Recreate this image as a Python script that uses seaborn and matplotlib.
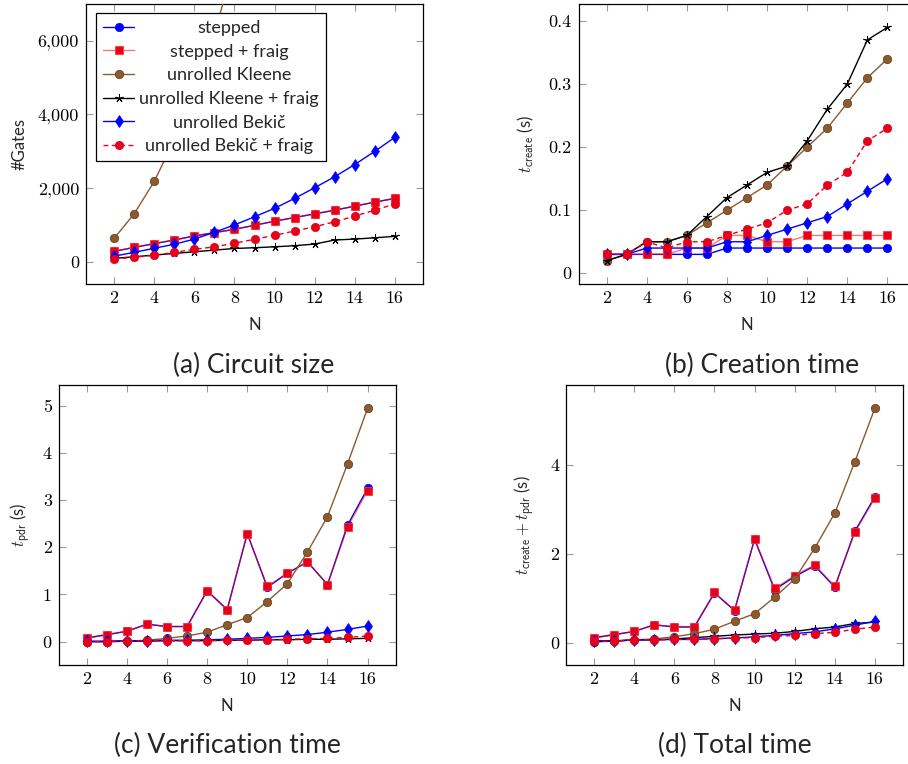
import numpy as np
import pandas as pd
import matplotlib
matplotlib.use("Agg")
import matplotlib.pyplot as plt
import seaborn as sns
from matplotlib.ticker import FuncFormatter

# ---------------- data ----------------
N = [2, 3, 4, 5, 6, 7, 8, 9, 10, 11, 12, 13, 14, 15, 16]
series_names = ["stepped", "stepped + fraig", "unrolled Kleene",
                "unrolled Kleene + fraig", "unrolled Bekič", "unrolled Bekič + fraig"]

# (a) circuit size (#Gates)
stepped_a = [280, 390, 490, 590, 700, 790, 880, 990, 1100, 1200, 1300, 1400, 1510, 1620, 1720]
stepped_fraig_a = [280, 390, 490, 590, 700, 790, 880, 990, 1100, 1200, 1300, 1400, 1510, 1620, 1720]
kleene_a = [635, 1300, 2180, 3300, 4600, 6200, 8100, 10300, 12800, 15700, 19000, 22800, 27000, 31800, 37000]
kleene_fraig_a = [90, 135, 180, 225, 270, 315, 360, 380, 405, 435, 480, 590, 615, 650, 690]
bekic_a = [150, 255, 365, 475, 615, 800, 1000, 1220, 1450, 1720, 2010, 2310, 2640, 3000, 3380]
bekic_fraig_a = [75, 120, 175, 255, 335, 405, 500, 610, 715, 835, 950, 1085, 1240, 1400, 1570]

# (b) creation time (s)
stepped_b = [0.03, 0.03, 0.03, 0.03, 0.03, 0.03, 0.04, 0.04, 0.04, 0.04, 0.04, 0.04, 0.04, 0.04, 0.04]
stepped_fraig_b = [0.03, 0.03, 0.03, 0.03, 0.04, 0.04, 0.06, 0.06, 0.05, 0.05, 0.06, 0.06, 0.06, 0.06, 0.06]
kleene_b = [0.02, 0.03, 0.05, 0.05, 0.06, 0.08, 0.10, 0.12, 0.14, 0.17, 0.20, 0.23, 0.27, 0.31, 0.34]
kleene_fraig_b = [0.02, 0.03, 0.05, 0.05, 0.06, 0.09, 0.12, 0.14, 0.16, 0.17, 0.21, 0.26, 0.30, 0.37, 0.39]
bekic_b = [0.03, 0.03, 0.04, 0.04, 0.04, 0.04, 0.05, 0.05, 0.06, 0.07, 0.08, 0.09, 0.11, 0.13, 0.15]
bekic_fraig_b = [0.03, 0.03, 0.05, 0.04, 0.05, 0.05, 0.06, 0.07, 0.08, 0.10, 0.11, 0.14, 0.16, 0.21, 0.23]

# (c) verification time (s)
stepped_c = [0.08, 0.15, 0.22, 0.37, 0.32, 0.32, 1.08, 0.68, 2.29, 1.15, 1.45, 1.69, 1.21, 2.47, 3.25]
stepped_fraig_c = [0.07, 0.14, 0.22, 0.37, 0.32, 0.32, 1.07, 0.67, 2.29, 1.17, 1.45, 1.69, 1.21, 2.43, 3.20]
kleene_c = [0.00, 0.00, 0.01, 0.03, 0.07, 0.12, 0.20, 0.36, 0.51, 0.85, 1.23, 1.90, 2.65, 3.77, 4.95]
kleene_fraig_c = [0.00, 0.00, 0.01, 0.01, 0.02, 0.02, 0.02, 0.03, 0.03, 0.04, 0.04, 0.05, 0.05, 0.06, 0.07]
bekic_c = [0.01, 0.01, 0.02, 0.02, 0.03, 0.03, 0.04, 0.05, 0.07, 0.09, 0.12, 0.15, 0.20, 0.26, 0.33]
bekic_fraig_c = [0.00, 0.00, 0.01, 0.02, 0.02, 0.02, 0.02, 0.03, 0.03, 0.04, 0.05, 0.06, 0.07, 0.09, 0.12]

# (d) total time (s)
stepped_d = [0.11, 0.18, 0.25, 0.40, 0.35, 0.35, 1.12, 0.72, 2.33, 1.19, 1.49, 1.73, 1.25, 2.51, 3.29]
stepped_fraig_d = [0.10, 0.17, 0.25, 0.40, 0.36, 0.36, 1.13, 0.73, 2.34, 1.22, 1.51, 1.75, 1.27, 2.49, 3.26]
kleene_d = [0.02, 0.03, 0.06, 0.08, 0.13, 0.20, 0.30, 0.48, 0.65, 1.02, 1.43, 2.13, 2.92, 4.08, 5.29]
kleene_fraig_d = [0.02, 0.03, 0.06, 0.06, 0.08, 0.11, 0.14, 0.17, 0.19, 0.21, 0.25, 0.31, 0.35, 0.43, 0.46]
bekic_d = [0.04, 0.04, 0.06, 0.06, 0.07, 0.07, 0.09, 0.10, 0.13, 0.16, 0.20, 0.24, 0.31, 0.39, 0.48]
bekic_fraig_d = [0.03, 0.03, 0.06, 0.06, 0.07, 0.07, 0.08, 0.10, 0.11, 0.14, 0.16, 0.20, 0.23, 0.30, 0.35]

x_ticks = [2, 4, 6, 8, 10, 12, 14, 16]
captions = ["(a) Circuit size", "(b) Creation time", "(c) Verification time", "(d) Total time"]
ylabels = ["#Gates", r"$t_{\mathsf{create}}$ (s)", r"$t_{\mathsf{pdr}}$ (s)",
           r"$t_{\mathsf{create}} + t_{\mathsf{pdr}}$ (s)"]

# ---------------- style ----------------
sns.set_theme(style="white")
SANS = ["Lato", "DejaVu Sans"]
plt.rcParams["font.family"] = SANS
plt.rcParams["mathtext.fontset"] = "cm"
plt.rcParams["axes.unicode_minus"] = False

BLUE = "#0000ff"
RED = "#e6001a"
BROWN = "#8c5a2e"

styles = [
    dict(color=BLUE, marker="o", ms=6, mfc=BLUE, mec=BLUE, mew=0.5, ls="-"),
    dict(color=(1, 0, 0, 0.55), marker="s", ms=5.5, mfc=RED, mec=(1, 0.2, 0.2, 0.8), mew=0.8, ls="-"),
    dict(color=BROWN, marker="o", ms=6, mfc=BROWN, mec="#6b4420", mew=0.6, ls="-"),
    dict(color="black", marker=(5, 2, 0), ms=6, mfc="black", mec="black", mew=0.7, ls="-"),
    dict(color=BLUE, marker="d", ms=6, mfc=BLUE, mec=BLUE, mew=0.5, ls="-"),
    dict(color=RED, marker="o", ms=6, mfc=RED, mec=RED, mew=0.5, ls=(0, (3.5, 2.5))),
]

panels = [
    [stepped_a, stepped_fraig_a, kleene_a, kleene_fraig_a, bekic_a, bekic_fraig_a],
    [stepped_b, stepped_fraig_b, kleene_b, kleene_fraig_b, bekic_b, bekic_fraig_b],
    [stepped_c, stepped_fraig_c, kleene_c, kleene_fraig_c, bekic_c, bekic_fraig_c],
    [stepped_d, stepped_fraig_d, kleene_d, kleene_fraig_d, bekic_d, bekic_fraig_d],
]

W, H = 908, 764
fig = plt.figure(figsize=(W / 100, H / 100), dpi=100)

# axes boxes in pixel coordinates (left, top, width, height)
boxes = [(86, 4, 337, 280), (578.5, 4, 337, 280), (58.7, 384.7, 337, 280.3), (566, 384.7, 337, 280.3)]
ylims = [(-605, 7000), (-0.017, 0.427), (-0.495, 5.445), (-0.507, 5.817)]
yticks = [[0, 2000, 4000, 6000], [0, 0.1, 0.2, 0.3, 0.4], [0, 1, 2, 3, 4, 5], [0, 2, 4]]
yfmts = [lambda v, p: f"{v:,.0f}",
         lambda v, p: "0" if v == 0 else f"{v:.1f}",
         lambda v, p: f"{v:.0f}",
         lambda v, p: f"{v:.0f}"]
caption_pos = [(254, 365), (762, 365), (227, 745), (735, 745)]
ylabelpads = [7, 9, 7, 9]

axes = []
for i, (l, t, w, h) in enumerate(boxes):
    ax = fig.add_axes([l / W, 1 - (t + h) / H, w / W, h / H])
    axes.append(ax)
    for j, vals in enumerate(panels[i]):
        st = styles[j]
        df = pd.DataFrame({"N": N, "v": vals})
        sns.lineplot(data=df, x="N", y="v", ax=ax, color=st["color"], marker=st["marker"],
                     ms=st["ms"], mfc=st["mfc"], mec=st["mec"], mew=st["mew"],
                     linestyle=st["ls"], linewidth=1.0, label=series_names[j],
                     legend=False, zorder=3 + j)
    ax.set_xlim(0.6, 17.4)
    ax.set_ylim(*ylims[i])
    ax.set_xticks(x_ticks)
    ax.set_yticks(yticks[i])
    ax.yaxis.set_major_formatter(FuncFormatter(yfmts[i]))
    ax.tick_params(direction="in", length=5, width=0.8, color="#9a9a9a",
                   top=True, right=True, bottom=True, left=True,
                   labelsize=13, labelfontfamily="cmr10", pad=5, labelcolor="black")
    for sp in ax.spines.values():
        sp.set_color("black")
        sp.set_linewidth(0.9)
        sp.set_visible(True)
    ax.set_xlabel("N", fontsize=12, labelpad=8, family=SANS)
    ax.set_ylabel(ylabels[i], fontsize=12, labelpad=ylabelpads[i], family=SANS)
    ax.grid(False)
    cx, cy = caption_pos[i]
    fig.text(cx / W, 1 - cy / H, captions[i], ha="center", va="center",
             fontsize=19, family=SANS)

# legend on panel (a)
ax = axes[0]
handles, labels = ax.get_legend_handles_labels()
leg = ax.legend(handles, labels, loc="upper left", bbox_to_anchor=(0.03, 0.968),
                frameon=True, fancybox=False, framealpha=1, edgecolor="black",
                handlelength=1.7, handletextpad=0.3, labelspacing=0.42,
                borderpad=0.4, borderaxespad=0.0, prop={"family": SANS, "size": 13})
leg.get_frame().set_linewidth(0.9)
leg.set_zorder(20)
fig.canvas.draw()
r = fig.canvas.get_renderer()
widths = [t.get_window_extent(r).width for t in leg.get_texts()]
maxw = max(widths)
for t, wi in zip(leg.get_texts(), widths):
    t.set_position(((maxw - wi) / 2, 0))

fig.savefig("out.png", dpi=100)
